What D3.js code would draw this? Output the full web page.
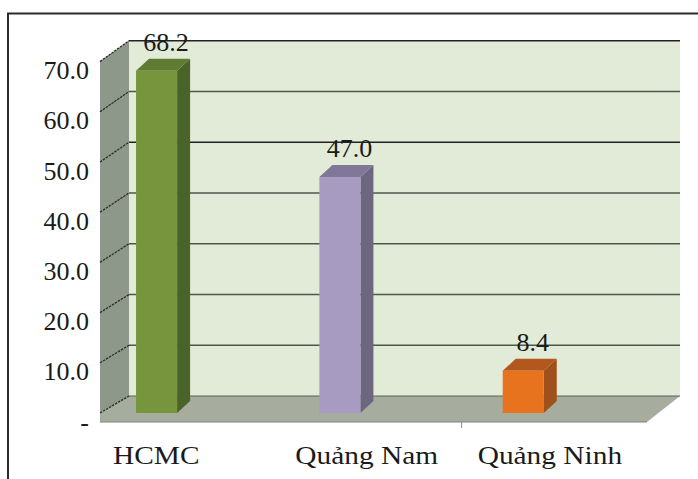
<!DOCTYPE html>
<html>
<head>
<meta charset="utf-8">
<script src="https://cdn.jsdelivr.net/npm/d3@7"></script>
<style>
  html, body { margin: 0; padding: 0; background: #ffffff; }
  svg { display: block; }
  text { font-family: "Liberation Serif", "Times New Roman", serif; fill: #1a1a1a; }
</style>
</head>
<body>
<svg id="chart" width="698" height="479"></svg>
<script>
// Chart data
const categories = ["HCMC", "Quảng Nam", "Quảng Ninh"];
const values = [68.2, 47.0, 8.4];
const valueLabels = ["68.2", "47.0", "8.4"];
const tickValues = [0, 10, 20, 30, 40, 50, 60, 70];
const tickLabels = ["-", "10.0", "20.0", "30.0", "40.0", "50.0", "60.0", "70.0"];
const frontColors = ["#76953d", "#a79bc2", "#e8731f"];
const sideColors = ["#4a6328", "#6c6681", "#a0501a"];
const topColors = ["#5f7c32", "#7f7899", "#b3581c"];

const svg = d3.select("#chart");

// Frame
svg.append("path")
  .attr("d", "M8,479 L8,13.5 L698,13.5")
  .attr("fill", "none").attr("stroke", "#2a2a2a").attr("stroke-width", 2);

// Pseudo-3D projection: back wall plane and front plane share the value domain
const yBack = d3.scaleLinear().domain([0, 70]).range([396, 40.7]);
const yFront = d3.scaleLinear().domain([0, 70]).range([413, 61.6]);
const backLeft = 129, backRight = 680;
const depthX = -29;           // back wall -> front of side wall
const floorFrontY = 422, floorFrontRight = 647;
const barDX = 13, barDY = -12; // bar depth

// Back wall
svg.append("rect")
  .attr("x", backLeft).attr("y", yBack(70))
  .attr("width", backRight - backLeft).attr("height", yBack(0) - yBack(70))
  .attr("fill", "#e2ebd8");

// Side wall
svg.append("path")
  .attr("d", `M${backLeft},${yBack(70)} L${backLeft},${yBack(0)} L${backLeft + depthX},${yFront(0)} L${backLeft + depthX},${yFront(70)} Z`)
  .attr("fill", "#8d988a");

// Floor
svg.append("path")
  .attr("d", `M${backLeft},${yBack(0)} L${backRight},${yBack(0)} L${floorFrontRight},${floorFrontY} L${backLeft + depthX},${floorFrontY} L${backLeft + depthX},${yFront(0)} Z`)
  .attr("fill", "#a6ad9f");
svg.append("line")
  .attr("x1", backLeft + depthX).attr("x2", floorFrontRight)
  .attr("y1", floorFrontY).attr("y2", floorFrontY)
  .attr("stroke", "#7f867b").attr("stroke-width", 1.2);

// Gridlines on back wall
svg.append("g").selectAll("line")
  .data(tickValues.filter(v => v > 0))
  .join("line")
  .attr("x1", backLeft).attr("x2", backRight)
  .attr("y1", d => yBack(d)).attr("y2", d => yBack(d))
  .attr("stroke", d => (d === 70 || d === 50) ? "#222" : "#4f564c")
  .attr("stroke-width", 1.5);

// Floor back edge
svg.append("line")
  .attr("x1", backLeft).attr("x2", backRight)
  .attr("y1", yBack(0)).attr("y2", yBack(0))
  .attr("stroke", "#5d6459").attr("stroke-width", 1.2);

// Gridlines on side wall
svg.append("g").selectAll("line")
  .data(tickValues)
  .join("line")
  .attr("x1", backLeft + depthX).attr("y1", d => yFront(d))
  .attr("x2", backLeft).attr("y2", d => yBack(d))
  .attr("stroke", "#2b2f2a").attr("stroke-width", 1.3)
  .attr("stroke-dasharray", "2.5,1");

// Value axis labels
svg.append("g").selectAll("text")
  .data(tickValues)
  .join("text")
  .attr("x", 89)
  .attr("y", d => yFront(d) + 9)
  .attr("text-anchor", "end")
  .attr("dominant-baseline", "central")
  .attr("font-size", 26)
  .text((d, i) => tickLabels[i]);

// Category bands: bars plane and floor front edge
const xBars = d3.scaleBand().domain(categories).range([110, 660]);
const xFront = d3.scaleBand().domain(categories).range([backLeft + depthX, floorFrontRight]);
const bw = xBars.bandwidth();
const barW = bw * 0.224;
const barOffset = bw * 0.142;

// Category separator on front edge (before the last category)
svg.append("g").selectAll("line")
  .data(categories.slice(2))
  .join("line")
  .attr("x1", d => xFront(d) - 3).attr("x2", d => xFront(d) - 3)
  .attr("y1", floorFrontY).attr("y2", floorFrontY + 6)
  .attr("stroke", "#8a8a8a").attr("stroke-width", 1);

// Bars
const bars = svg.append("g").selectAll("g")
  .data(categories.map((c, i) => ({ c, v: values[i], i })))
  .join("g");

bars.each(function (d) {
  const g = d3.select(this);
  const x0 = xBars(d.c) + barOffset;
  const x1 = x0 + barW;
  const yt = yFront(d.v);
  const yb = yFront(0);
  // side face
  g.append("path")
    .attr("d", `M${x1},${yt} L${x1 + barDX},${yt + barDY} L${x1 + barDX},${yb + barDY} L${x1},${yb} Z`)
    .attr("fill", sideColors[d.i]);
  // top face
  g.append("path")
    .attr("d", `M${x0},${yt} L${x0 + barDX},${yt + barDY} L${x1 + barDX},${yt + barDY} L${x1},${yt} Z`)
    .attr("fill", topColors[d.i]);
  // front face
  g.append("rect")
    .attr("x", x0).attr("y", yt)
    .attr("width", barW).attr("height", yb - yt)
    .attr("fill", frontColors[d.i]);
  // value label
  g.append("text")
    .attr("x", x0 + (barW + barDX) / 2 + 3)
    .attr("y", yt + barDY - 8)
    .attr("text-anchor", "middle")
    .attr("font-size", 26)
    .text(valueLabels[d.i]);
});

// Category labels
svg.append("g").selectAll("text")
  .data(categories)
  .join("text")
  .attr("transform", d => `translate(${xFront(d) + 13},464) scale(1.13,1)`)
  .attr("text-anchor", "start")
  .attr("font-size", 26)
  .text(d => d);
</script>
</body>
</html>
